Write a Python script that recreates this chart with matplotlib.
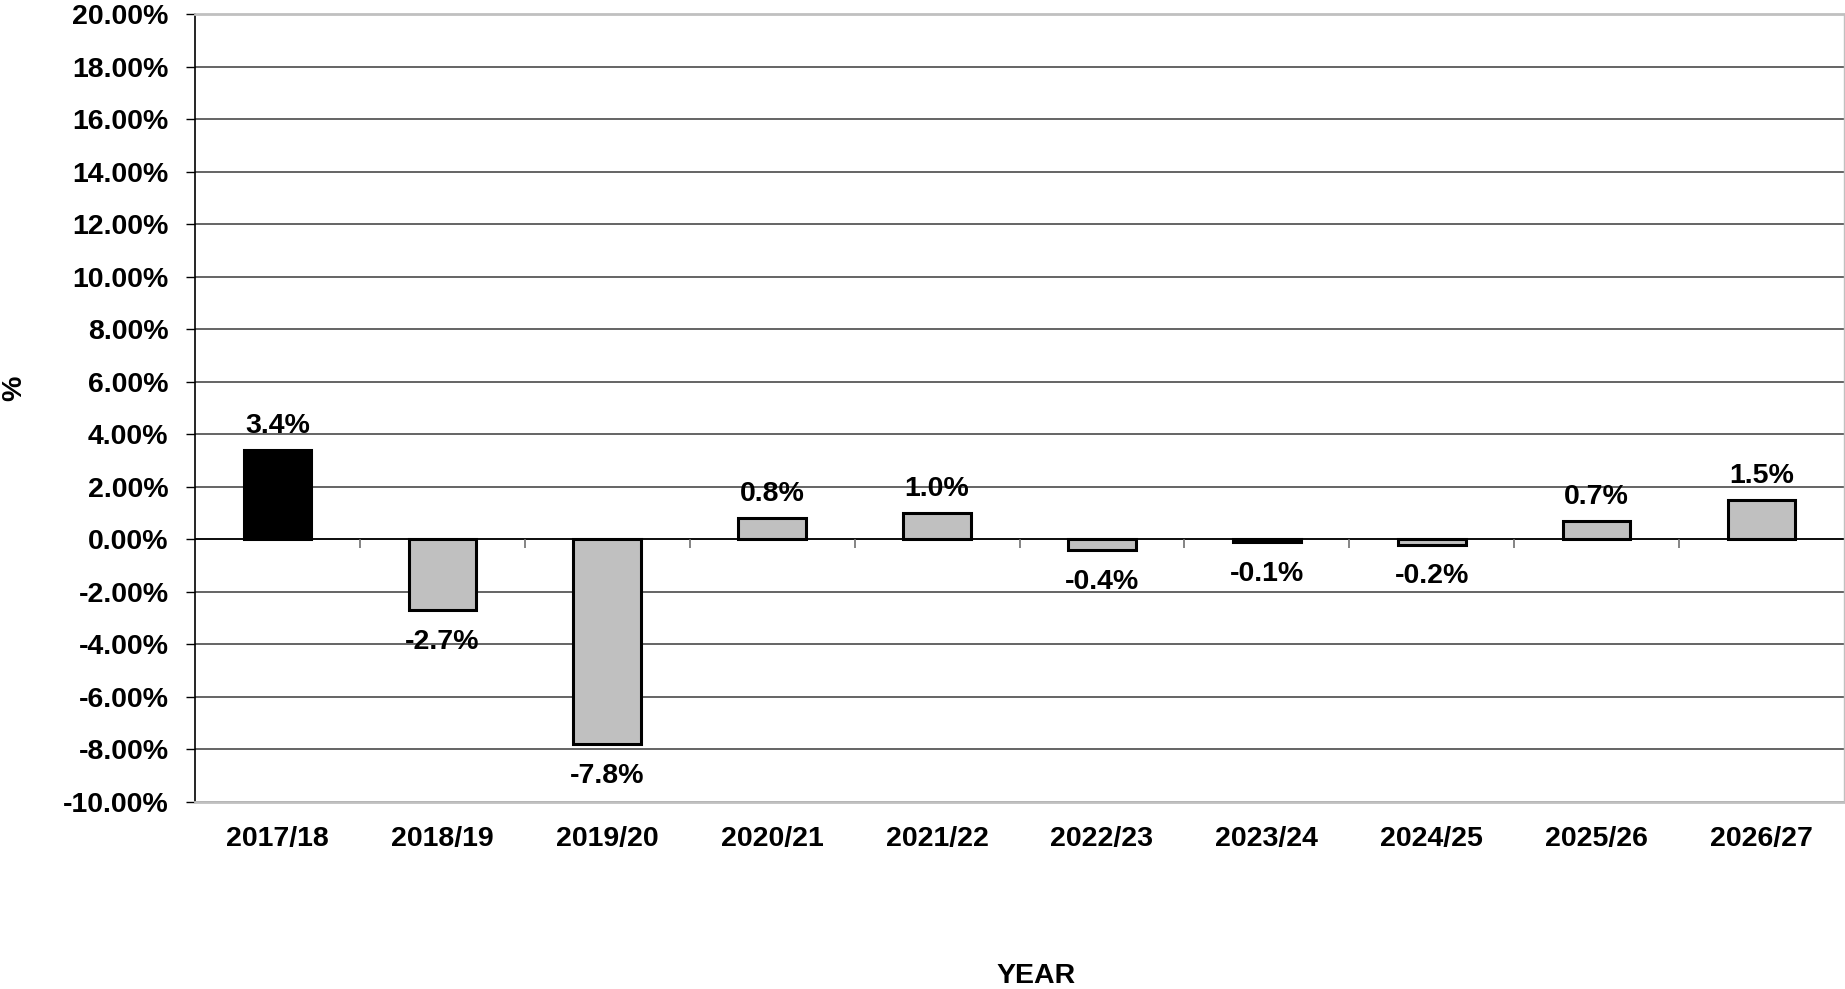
import matplotlib.pyplot as plt
import numpy as np

years = ["2017/18", "2018/19", "2019/20", "2020/21", "2021/22",
         "2022/23", "2023/24", "2024/25", "2025/26", "2026/27"]
change = [3.4, -2.7, -7.8, 0.8, 1.0, -0.4, -0.1, -0.2, 0.7, 1.5]
fills = ["black"] + ["#c0c0c0"] * 9

plt.rcParams["font.family"] = ["Liberation Sans", "DejaVu Sans"]
plt.rcParams["font.weight"] = "bold"
FS = 20.5


def main():
    fig = plt.figure(figsize=(18.45, 9.89), dpi=100)
    ax = fig.add_axes([195 / 1845, 1 - 802 / 989, 1 - 196 / 1845, (802 - 14) / 989])

    x = np.arange(len(years))
    ax.bar(x, change, width=0.41, color=fills, edgecolor="black", linewidth=2.2, zorder=3)

    # value labels above / below each bar
    for xi, v in zip(x, change):
        if v >= 0:
            ax.annotate(f"{v:.1f}%", (xi, v), xytext=(0, 12.5), textcoords="offset points",
                        ha="center", va="baseline", fontsize=FS, fontweight="bold")
        else:
            ax.annotate(f"{v:.1f}%", (xi, v), xytext=(0, -13.5), textcoords="offset points",
                        ha="center", va="top", fontsize=FS, fontweight="bold")

    # y axis
    ax.set_ylim(-10, 20)
    ax.set_yticks(np.arange(-10, 21, 2))
    ax.yaxis.set_major_formatter(plt.FuncFormatter(lambda v, p: f"{v:.2f}%"))
    ax.tick_params(axis="y", length=6.5, width=1, pad=12.5, labelsize=FS)
    ax.grid(axis="y", color="#3a3a3a", linewidth=1.1, zorder=0)

    # x axis
    ax.set_xlim(-0.5, len(years) - 0.5)
    ax.set_xticks(x)
    ax.set_xticklabels(years, fontsize=FS, fontweight="bold")
    ax.tick_params(axis="x", length=0, pad=17.5)

    # zero line with category separators
    ax.axhline(0, color="black", linewidth=1.2, zorder=2)
    ax.vlines(x[:-1] + 0.5, -0.34, 0, color="#707070", linewidth=1.2, zorder=2)

    for s in ("top", "bottom", "right"):
        ax.spines[s].set_color("#c0c0c0")
        ax.spines[s].set_linewidth(2)
    ax.spines["right"].set_linewidth(1)
    ax.spines["left"].set_color("black")
    ax.spines["left"].set_linewidth(1.2)

    fig.text(14 / 1845, 1 - 388 / 989, "%", rotation=90, ha="center", va="center",
             fontsize=FS, fontweight="bold")
    fig.text(1036 / 1845, 1 - 976 / 989, "YEAR", ha="center", va="center",
             fontsize=FS, fontweight="bold")

    fig.savefig("out.png", dpi=100)


if __name__ == "__main__":
    main()
